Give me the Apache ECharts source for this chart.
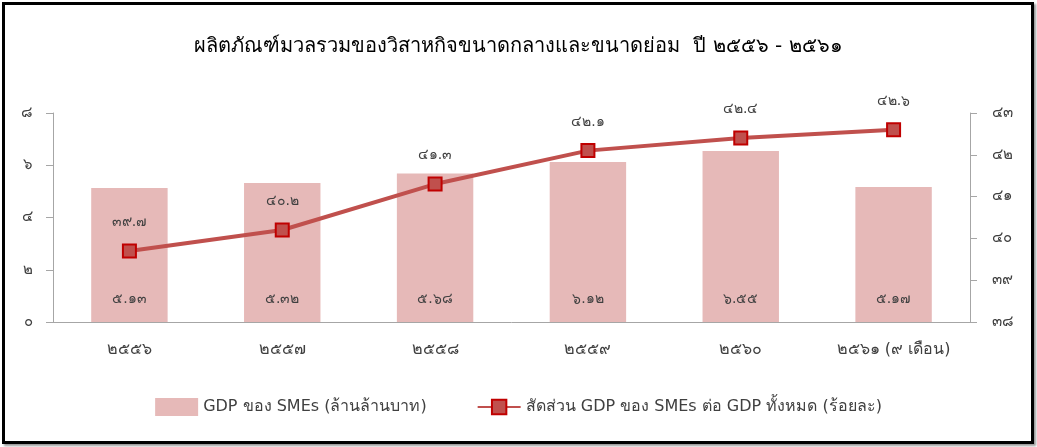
<!DOCTYPE html>
<html>
<head>
    <meta charset="utf-8">
    <script src="https://cdn.jsdelivr.net/npm/echarts@6/dist/echarts.min.js"></script>
    <style type="text/css">
        html, body { width: 100%; height: 100%; }
        * { margin: 0; padding: 0; }
        body { background: #fff; position: relative; }
        #chart_main { width: 1037px; height: 447px; }
        .frame {
            position: absolute; left: 2px; top: 2px; width: 1026px; height: 436px;
            border: 3px solid #000; box-shadow: 2px 2px 2px #999; pointer-events: none;
        }
    </style>
</head>
<body>
<div id="chart_main"></div>
<div class="frame"></div>
<script type="text/javascript">
    // ปี (พ.ศ.)
    var years = ['2556', '2557', '2558', '2559', '2560', '2561 (9 เดือน)'];
    // GDP ของ SMEs (ล้านล้านบาท)
    var gdpSme = [5.13, 5.32, 5.68, 6.12, 6.55, 5.17];
    // สัดส่วน GDP ของ SMEs ต่อ GDP ทั้งหมด (ร้อยละ)
    var shareSme = [39.7, 40.2, 41.3, 42.1, 42.4, 42.6];

    var thaiDigits = ['๐', '๑', '๒', '๓', '๔', '๕', '๖', '๗', '๘', '๙'];
    function toThai(v) {
        return String(v).replace(/[0-9]/g, function (d) { return thaiDigits[+d]; });
    }

    var textFont = "Tahoma, 'DejaVu Sans', sans-serif";
    var chart = echarts.init(document.getElementById('chart_main'));
    var option = {
        animation: false,
        title: {
            text: 'ผลิตภัณฑ์มวลรวมของวิสาหกิจขนาดกลางและขนาดย่อม  ปี ' + toThai('2556') + ' - ' + toThai('2561'),
            left: 'center', top: 32,
            textStyle: { fontSize: 20, fontWeight: 'normal', color: '#000', fontFamily: textFont }
        },
        legend: {
            bottom: 26, left: 'center', itemGap: 50, itemWidth: 43, itemHeight: 18,
            textStyle: { fontSize: 16, color: '#404040', fontFamily: textFont },
            data: [
                { name: 'GDP ของ SMEs (ล้านล้านบาท)', icon: 'rect' },
                { name: 'สัดส่วน GDP ของ SMEs ต่อ GDP ทั้งหมด (ร้อยละ)' }
            ]
        },
        grid: { left: 53, right: 67, top: 113, bottom: 125 },
        xAxis: {
            type: 'category',
            data: years,
            axisLine: { lineStyle: { color: '#a6a6a6', width: 1 } },
            axisTick: { length: 7, lineStyle: { color: '#a6a6a6' } },
            axisLabel: { margin: 20, fontSize: 16, color: '#404040', fontFamily: textFont, formatter: toThai }
        },
        yAxis: [{
            type: 'value', min: 0, max: 8, interval: 2,
            splitLine: { show: false },
            axisLine: { show: true, lineStyle: { color: '#a6a6a6' } },
            axisTick: { show: true, length: 7, lineStyle: { color: '#a6a6a6' } },
            axisLabel: { margin: 20, fontSize: 15, color: '#404040', fontFamily: textFont, formatter: toThai }
        }, {
            type: 'value', min: 38, max: 43, interval: 1,
            splitLine: { show: false },
            axisLine: { show: true, lineStyle: { color: '#a6a6a6' } },
            axisTick: { show: true, length: 7, lineStyle: { color: '#a6a6a6' } },
            axisLabel: { margin: 22, fontSize: 15, color: '#404040', fontFamily: textFont, formatter: toThai }
        }],
        series: [{
            name: 'GDP ของ SMEs (ล้านล้านบาท)',
            type: 'bar',
            data: gdpSme,
            barWidth: '50%',
            itemStyle: { color: '#e6b9b8' },
            label: {
                show: true, position: 'insideBottom', distance: 16,
                fontSize: 14, color: '#404040', fontFamily: textFont,
                formatter: function (p) { return toThai(p.value.toFixed(2)); }
            }
        }, {
            name: 'สัดส่วน GDP ของ SMEs ต่อ GDP ทั้งหมด (ร้อยละ)',
            type: 'line',
            yAxisIndex: 1,
            data: shareSme,
            symbol: 'rect', symbolSize: 13,
            lineStyle: { color: '#c0504d', width: 4 },
            itemStyle: { color: '#c0504d', borderColor: '#c00000', borderWidth: 2 },
            label: {
                show: true, position: 'top', distance: 14,
                fontSize: 14, color: '#404040', fontFamily: textFont,
                formatter: function (p) { return toThai(p.value.toFixed(1)); }
            }
        }]
    };
    chart.setOption(option);
</script>
</body>
</html>
